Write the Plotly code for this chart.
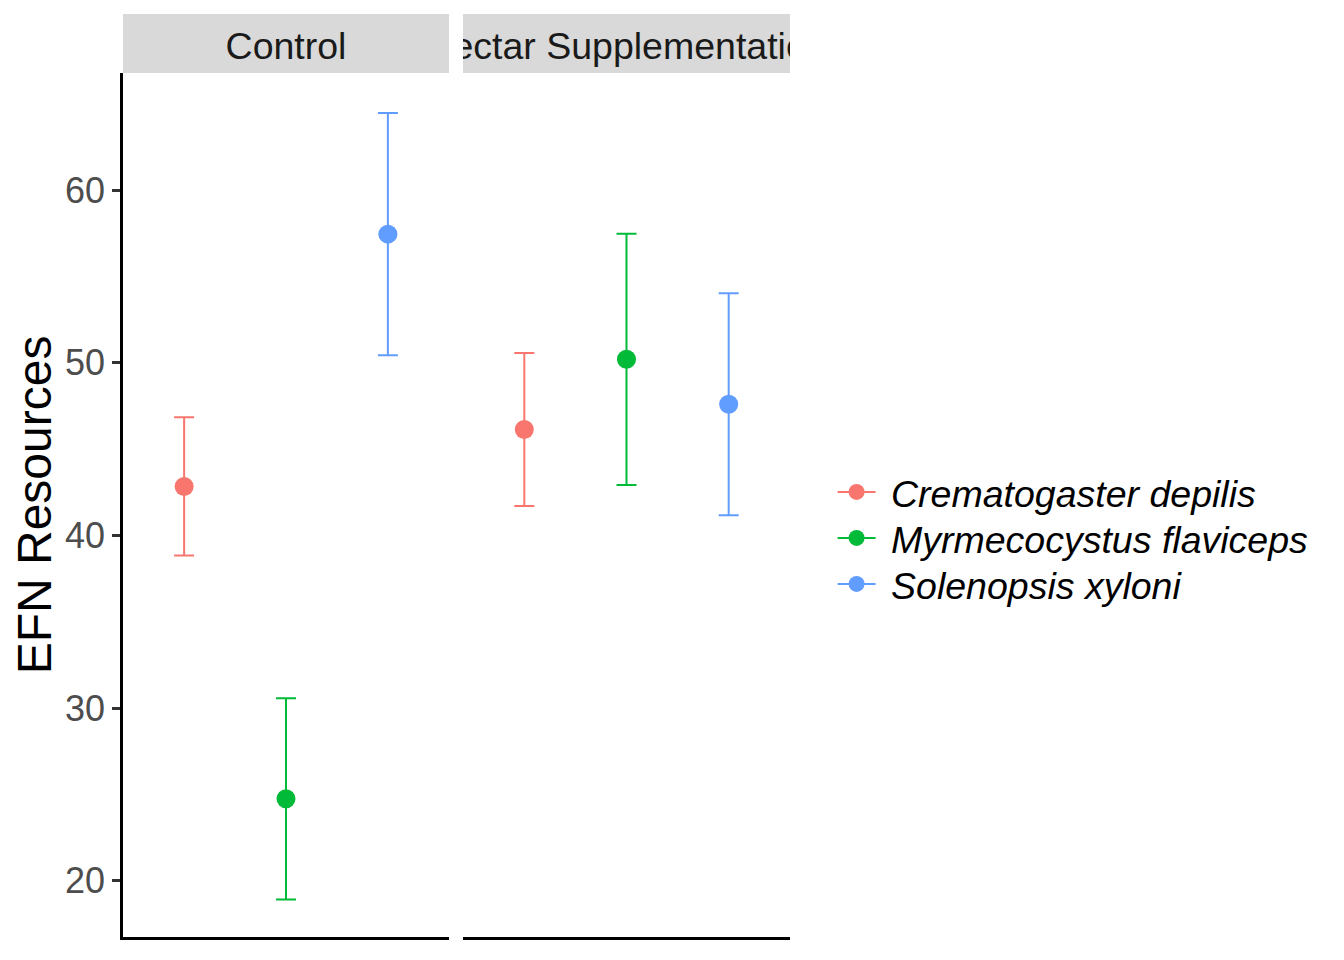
import plotly.graph_objects as go

treatments = ["Control", "Nectar Supplementation"]
species = ["Crematogaster depilis", "Myrmecocystus flaviceps", "Solenopsis xyloni"]
colors = ["#F8766D", "#00BA38", "#619CFF"]

# mean EFN resources per species, one list per treatment
means = {
    "Control": [42.84, 24.75, 57.45],
    "Nectar Supplementation": [46.14, 50.20, 47.60],
}
# standard error (symmetric)
errors = {
    "Control": [4.00, 5.83, 7.01],
    "Nectar Supplementation": [4.43, 7.27, 6.43],
}

yticks = [20, 30, 40, 50, 60]
W, H = 1344, 960
FONT = "Liberation Sans, Arial, sans-serif"
OFF = 8  # page body margin

fig = go.Figure()

panels = [(123 - OFF, 449 - OFF), (463 - OFF, 790 - OFF)]
y_top, y_bot = 73 - OFF, 937 - OFF
strip_top = 14 - OFF

for p, tr in enumerate(treatments):
    xa = "x" if p == 0 else "x2"
    for i, sp in enumerate(species):
        fig.add_trace(go.Scatter(
            x=[i + 1], y=[means[tr][i]],
            mode="markers",
            marker=dict(color=colors[i], size=19),
            error_y=dict(type="data", array=[errors[tr][i]], color=colors[i],
                         thickness=2, width=10, visible=True),
            xaxis=xa, yaxis="y" if p == 0 else "y2",
            showlegend=False, hoverinfo="x+y",
        ))

# legend-only entries (pointrange glyphs), one legend per item for exact spacing
legend_names = ["legend", "legend2", "legend3"]
for i, sp in enumerate(species):
    fig.add_trace(go.Scatter(
        x=[None], y=[None], mode="lines+markers", name="\u00a0" + sp,
        marker=dict(color=colors[i], size=19),
        line=dict(color=colors[i], width=2),
        showlegend=True, legend=legend_names[i],
    ))

ydom = [(H - y_bot) / H, (H - y_top) / H]
yrange = [16.75, 66.78]

common_x = dict(range=[0.4, 3.6], showline=True, linecolor="black", linewidth=2.5,
                showticklabels=False, ticks="", showgrid=False, zeroline=False,
                fixedrange=True)

leg_common = dict(xanchor="left", yanchor="middle",
                  font=dict(size=37.5, family=FONT, style="italic", color="black"),
                  bgcolor="rgba(0,0,0,0)", itemwidth=38)
leg_y = [492 - OFF, 538 - OFF, 584 - OFF]
leg_x = (838 - OFF - 5.4) / W

fig.update_layout(
    width=W, height=H,
    margin=dict(l=0, r=0, t=0, b=0),
    paper_bgcolor="white", plot_bgcolor="white",
    font=dict(family=FONT, color="black"),
    xaxis=dict(domain=[panels[0][0] / W, panels[0][1] / W], anchor="y", **common_x),
    xaxis2=dict(domain=[panels[1][0] / W, panels[1][1] / W], anchor="y2", **common_x),
    yaxis=dict(domain=ydom, range=yrange, anchor="x", tickvals=yticks,
               showline=True, linecolor="black", linewidth=2.5,
               ticks="outside", ticklen=8, tickwidth=2.5, tickcolor="#333333",
               tickfont=dict(size=36, color="#4D4D4D", family=FONT),
               showgrid=False, zeroline=False,
               title=dict(text="EFN Resources", font=dict(size=48, color="black"), standoff=18)),
    yaxis2=dict(domain=ydom, range=yrange, anchor="x2", matches="y",
                showline=False, showticklabels=False, ticks="", showgrid=False,
                zeroline=False),
    legend=dict(x=leg_x, y=(H - leg_y[0]) / H, **leg_common),
    legend2=dict(x=leg_x, y=(H - leg_y[1]) / H, **leg_common),
    legend3=dict(x=leg_x, y=(H - leg_y[2]) / H, **leg_common),
    showlegend=True,
)

for p, tr in enumerate(treatments):
    x0, x1 = panels[p]
    fig.add_shape(type="rect", xref="paper", yref="paper",
                  x0=x0 / W, x1=x1 / W, y0=(H - y_top) / H, y1=(H - strip_top) / H,
                  fillcolor="#D9D9D9", line=dict(width=0), layer="below")
    fig.add_annotation(xref="paper", yref="paper",
                       x=(x0 + x1) / 2 / W, y=(H - (y_top + strip_top) / 2 - 2) / H,
                       xanchor="center", yanchor="middle",
                       text=tr, showarrow=False, width=(x1 - x0), align="center",
                       font=dict(size=37.5, color="#1A1A1A", family=FONT))

fig.write_html("out.html")
